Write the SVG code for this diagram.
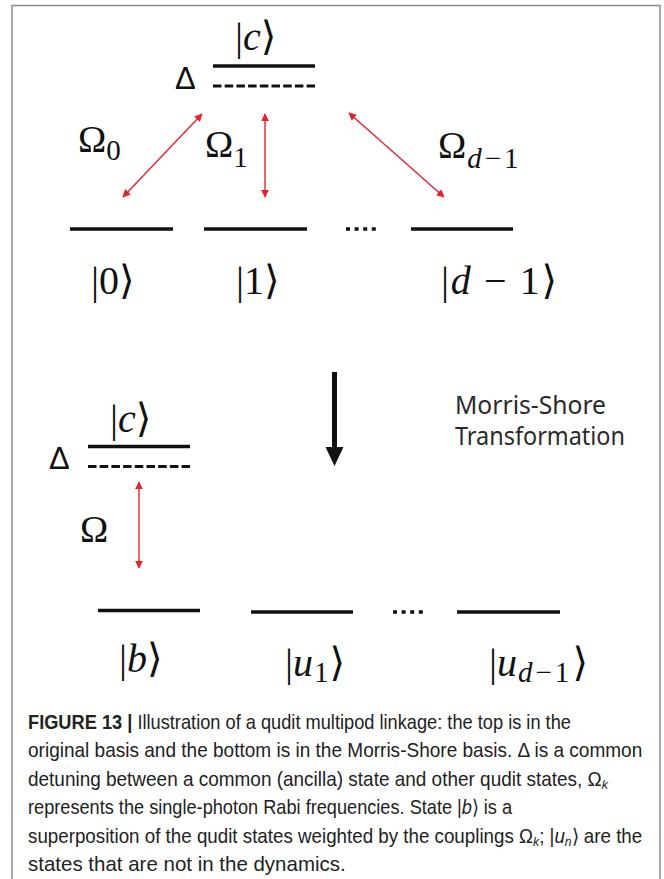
<svg xmlns="http://www.w3.org/2000/svg" width="664" height="879" viewBox="0 0 664 879">
<style>
.frame{fill:none;stroke:#8a8a8a;stroke-width:1.5}
.lvl{stroke:#111;stroke-width:3.5;fill:none}
.dash{stroke:#111;stroke-width:3.2;stroke-dasharray:8.5 3.2;fill:none}
.dots{stroke:#111;stroke-width:3.5;stroke-dasharray:4 4.6;fill:none}
.red{stroke:#e3232b;stroke-width:1.4;fill:none;marker-start:url(#rh);marker-end:url(#rh)}
.m{font-family:"Liberation Serif","DejaVu Serif","DejaVu Sans",serif;fill:#111}
.ket{font-size:40px}
.om{font-size:38px}
.sub{font-size:29px}
.sp{letter-spacing:3px}
.it{font-style:italic}
.delta{font-family:"Liberation Sans","DejaVu Sans",sans-serif;font-size:31px;fill:#111}
.ms{font-family:"Noto Sans","Open Sans","Liberation Sans",sans-serif;font-size:25px;fill:#2a2a2a}
.cap{font-family:"Liberation Sans Narrow","Liberation Sans",Arial,sans-serif;font-size:20px;fill:#222}
.b{font-weight:bold}
</style>
<defs>
<marker id="rh" viewBox="0 0 10 10" refX="9" refY="5" markerWidth="8" markerHeight="8" markerUnits="userSpaceOnUse" orient="auto-start-reverse">
<path d="M0,0 L10,5 L0,10 z" fill="#e3232b"/>
</marker>
</defs>
<path class="frame" d="M12,879 V5.5 H660 V879"/>

<g id="top-c">
<text class="m ket" x="235" y="50">|<tspan class="it">c</tspan>⟩</text>
<text class="delta" x="175" y="89">Δ</text>
<line class="lvl" x1="213" y1="66" x2="315" y2="66"/>
<line class="dash" x1="213" y1="86" x2="315" y2="86"/>
</g>
<g id="top-0">
<line class="lvl" x1="70" y1="229" x2="173" y2="229"/>
<text class="m ket" x="91" y="294">|0⟩</text>
</g>
<g id="top-1">
<line class="lvl" x1="204" y1="229" x2="307" y2="229"/>
<text class="m ket" x="236" y="294">|1⟩</text>
</g>
<g id="top-dots"><line class="dots" x1="346" y1="229" x2="376" y2="229"/></g>
<g id="top-d1">
<line class="lvl" x1="411" y1="229" x2="513" y2="229"/>
<text class="m ket" x="441" y="294" textLength="116" lengthAdjust="spacing">|<tspan class="it">d</tspan> − 1⟩</text>
</g>
<g id="top-labels">
<text class="m om" x="78" y="152">Ω<tspan class="sub" dy="8">0</tspan></text>
<text class="m om" x="205" y="157">Ω<tspan class="sub" dy="10">1</tspan></text>
<text class="m om" x="438" y="158">Ω<tspan class="sub sp" dy="10" dx="1"><tspan class="it">d</tspan>−1</tspan></text>
</g>

<g id="transform">
<line x1="334.5" y1="372" x2="334.5" y2="449" stroke="#111" stroke-width="5"/>
<path d="M325.5,447 L343.5,447 L334.5,466 z" fill="#111"/>
<text class="ms" x="455" y="414" textLength="151" lengthAdjust="spacingAndGlyphs">Morris-Shore</text>
<text class="ms" x="455" y="445" textLength="170" lengthAdjust="spacingAndGlyphs">Transformation</text>
</g>

<g id="bot-c">
<text class="m ket" x="110" y="432">|<tspan class="it">c</tspan>⟩</text>
<text class="delta" x="49" y="469">Δ</text>
<line class="lvl" x1="88" y1="446.5" x2="190" y2="446.5"/>
<line class="dash" x1="88" y1="466.5" x2="190" y2="466.5"/>
</g>
<g id="bot-b">
<line class="lvl" x1="98" y1="610.5" x2="200" y2="610.5"/>
<text class="m ket" x="119" y="672">|<tspan class="it">b</tspan>⟩</text>
</g>
<g id="bot-u1">
<line class="lvl" x1="251" y1="612" x2="353" y2="612"/>
<text class="m ket" x="285" y="676">|<tspan class="it">u</tspan><tspan class="sub" dy="6" dx="1">1</tspan><tspan dy="-6" dx="1">⟩</tspan></text>
</g>
<g id="bot-dots"><line class="dots" x1="393" y1="612" x2="423" y2="612"/></g>
<g id="bot-ud1">
<line class="lvl" x1="457" y1="612" x2="560" y2="612"/>
<text class="m ket" x="489" y="676">|<tspan class="it">u</tspan><tspan class="sub sp" dy="6" dx="1"><tspan class="it">d</tspan>−1</tspan><tspan dy="-6">⟩</tspan></text>
</g>
<g id="bot-label">
<text class="m om" x="80" y="542" font-size="36">Ω</text>
</g>

<g id="connectors">
<line class="red" x1="123" y1="197" x2="202" y2="114"/>
<line class="red" x1="265" y1="114" x2="265" y2="197"/>
<line class="red" x1="349" y1="113" x2="444" y2="197"/>
<line class="red" x1="139" y1="482" x2="139" y2="568"/>
</g>

<g id="caption" transform="translate(28,0) scale(0.88,1)">
<text class="cap" x="0" y="729" textLength="617" lengthAdjust="spacingAndGlyphs"><tspan class="b">FIGURE 13 |</tspan> Illustration of a qudit multipod linkage: the top is in the</text>
<text class="cap" x="0" y="757" textLength="698" lengthAdjust="spacingAndGlyphs">original basis and the bottom is in the Morris-Shore basis. Δ is a common</text>
<text class="cap" x="0" y="786" textLength="659" lengthAdjust="spacingAndGlyphs">detuning between a common (ancilla) state and other qudit states, Ω<tspan class="it" font-size="13" dy="3">k</tspan></text>
<text class="cap" x="0" y="814" textLength="550" lengthAdjust="spacingAndGlyphs">represents the single-photon Rabi frequencies. State |<tspan class="it">b</tspan>⟩ is a</text>
<text class="cap" x="0" y="843" textLength="698" lengthAdjust="spacingAndGlyphs">superposition of the qudit states weighted by the couplings Ω<tspan class="it" font-size="13" dy="3">k</tspan><tspan dy="-3">; |</tspan><tspan class="it">u</tspan><tspan class="it" font-size="13" dy="3">n</tspan><tspan dy="-3">⟩ are the</tspan></text>
<text class="cap" x="0" y="871" textLength="361" lengthAdjust="spacingAndGlyphs">states that are not in the dynamics.</text>
</g>
</svg>
